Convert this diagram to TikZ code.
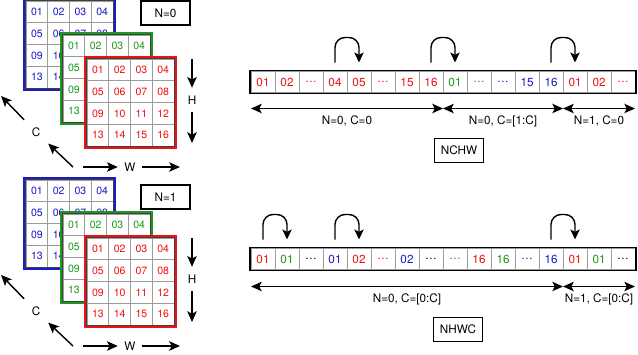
\documentclass[tikz,border=0pt]{standalone}
\usepackage{fontspec}
\setmainfont{TeX Gyre Heros}
\usetikzlibrary{arrows.meta,positioning,calc}
\definecolor{mapred}{HTML}{EE1111}
\definecolor{mapgreen}{HTML}{1A9A1A}
\definecolor{mapblue}{HTML}{1A1AC8}
\definecolor{cellgray}{HTML}{9C9C9C}
\tikzset{
  gridcell/.style={
    draw=cellgray,
    fill=white,
    line width=0.8pt,
    minimum size=0.6525cm,
    inner sep=0pt,
    font=\fontsize{9}{10}\selectfont
  },
  memcell/.style={
    draw=cellgray,
    fill=white,
    line width=0.8pt,
    outer sep=0pt,
    minimum width=0.72cm,
    minimum height=0.63cm,
    inner sep=0pt,
    font=\fontsize{10}{11}\selectfont
  },
  tagbox/.style={
    draw=black,
    line width=1.1pt,
    minimum width=1.47cm,
    minimum height=0.72cm,
    inner sep=0pt,
    font=\fontsize{10}{12}\selectfont
  },
  axislabel/.style={minimum size=0.72cm,inner sep=0pt,font=\fontsize{10}{12}\selectfont},
  axisarrow/.style={-{Stealth[length=3.2mm,width=2.8mm,inset=0.7mm]},line width=1.2pt},
  hop/.style={-{Stealth[length=3mm,width=2.8mm,inset=0.7mm]},line width=1.2pt,rounded corners=0.3cm},
  extent/.style={{Stealth[length=3.2mm,width=2.8mm,inset=0.7mm]}-{Stealth[length=3.2mm,width=2.8mm,inset=0.7mm]},line width=1.1pt},
  extentlabel/.style={font=\fontsize{10}{12}\selectfont,yshift=-11pt}
}
% one 4x4 channel plane: name, left, top, colour
\newcommand{\chgrid}[4]{%
  \foreach \r in {1,...,4}{%
    \foreach \c in {1,...,4}{%
      \pgfmathtruncatemacro{\k}{(\r-1)*4+\c}%
      \node[gridcell,text=#4] (#1-\r-\c) at ({#2+(\c-0.5)*21.75},{#3+(\r-0.5)*21.75}) {\ifnum\k<10 0\fi\k};
    }%
  }%
  \draw[line width=0.8pt,black!75] (#1-1-1.north west) rectangle (#1-4-4.south east);
  \draw[line width=1.2pt,#4] ([shift={(-1.6,-1.6)}]#1-1-1.north west) rectangle ([shift={(1.6,1.6)}]#1-4-4.south east);
}
\begin{document}
\begin{tikzpicture}[x=0.03cm,y=-0.03cm]
  \useasboundingbox (0,0) rectangle (638,354);
  % feature maps, one set per batch index
  \foreach \n/\dy/\by in {0/0/13,1/179/18}{
    \begin{scope}[shift={(0,\dy)}]
      \chgrid{blue\n}{26}{1}{mapblue}
      \chgrid{green\n}{63}{35}{mapgreen}
      \chgrid{red\n}{87}{59}{mapred}
      \node[tagbox] (nbox\n) at (165.5,\by) {N=\n};
      % axes
      \coordinate (htop\n) at (192,59);
      \node[axislabel] (hlab\n) at (192,100) {H};
      \coordinate (hbot\n) at (192,143);
      \draw[axisarrow] (htop\n) -- (hlab\n);
      \draw[axisarrow] (hlab\n) -- (hbot\n);
      \coordinate (wleft\n) at (83,167);
      \node[axislabel] (wlab\n) at (130,167) {W};
      \coordinate (wright\n) at (180,167);
      \draw[axisarrow] (wleft\n) -- (wlab\n);
      \draw[axisarrow] (wlab\n) -- (wright\n);
      \coordinate (cnear\n) at (73,167);
      \node[axislabel] (clab\n) at (36,132) {C};
      \coordinate (cfar\n) at (1,96);
      \draw[axisarrow] (cnear\n) -- (clab\n);
      \draw[axisarrow] (clab\n) -- (cfar\n);
    \end{scope}
  }
  % NCHW memory order
  \node[memcell,text=mapred] (nchw1) at (263,82) {01};
  \foreach \i/\v/\col [remember=\i as \j (initially 1)] in
    {2/02/mapred,3/\dots/mapred,4/04/mapred,5/05/mapred,6/\dots/mapred,7/15/mapred,8/16/mapred,
     9/01/mapgreen,10/\dots/mapgreen,11/\dots/mapblue,12/15/mapblue,13/16/mapblue,
     14/01/mapred,15/02/mapred,16/\dots/mapred}
    \node[memcell,text=\col,right=0pt of nchw\j] (nchw\i) {\v};
  \draw[line width=1.6pt] ([shift={(-1,-1)}]nchw1.north west) rectangle ([shift={(1,1)}]nchw16.south east);
  \foreach \a/\b in {4/5,8/9,13/14}
    \draw[hop] ($(nchw\a.north)+(0,-9)$) -- ++(0,-25) -| ($(nchw\b.north)+(0,-9)$);
  \draw[extent] ($(nchw1.south west)+(0,16)$) -- node[extentlabel] (nchwa) {N=0, C=0} ($(nchw8.south east)+(0,16)$);
  \draw[extent] ($(nchw9.south west)+(0,16)$) -- node[extentlabel] (nchwb) {N=0, C=[1:C]} ($(nchw13.south east)+(0,16)$);
  \draw[extent] ($(nchw14.south west)+(0,16)$) -- node[extentlabel] (nchwc) {N=1, C=0} ($(nchw16.south east)+(0,16)$);
  \node[tagbox] (nchwtag) at (459,150.5) {NCHW};
  % NHWC memory order
  \node[memcell,text=mapred] (nhwc1) at (263,259) {01};
  \foreach \i/\v/\col [remember=\i as \j (initially 1)] in
    {2/01/mapgreen,3/\dots/black,4/01/mapblue,5/02/mapred,6/\dots/mapred,7/02/mapblue,8/\dots/black,
     9/\dots/mapgreen,10/16/mapred,11/16/mapgreen,12/\dots/mapblue,13/16/mapblue,
     14/01/mapred,15/01/mapgreen,16/\dots/black}
    \node[memcell,text=\col,right=0pt of nhwc\j] (nhwc\i) {\v};
  \draw[line width=1.6pt] ([shift={(-1,-1)}]nhwc1.north west) rectangle ([shift={(1,1)}]nhwc16.south east);
  \foreach \a/\b in {1/2,4/5,13/14}
    \draw[hop] ($(nhwc\a.north)+(0,-9)$) -- ++(0,-25) -| ($(nhwc\b.north)+(0,-9)$);
  \draw[extent] ($(nhwc1.south west)+(0,17)$) -- node[extentlabel] (nhwca) {N=0, C=[0:C]} ($(nhwc13.south east)+(0,17)$);
  \draw[extent] ($(nhwc14.south west)+(0,17)$) -- node[extentlabel] (nhwcb) {N=1, C=[0:C]} ($(nhwc16.south east)+(0,17)$);
  \node[tagbox] (nhwctag) at (458,329.5) {NHWC};
\end{tikzpicture}
\end{document}
